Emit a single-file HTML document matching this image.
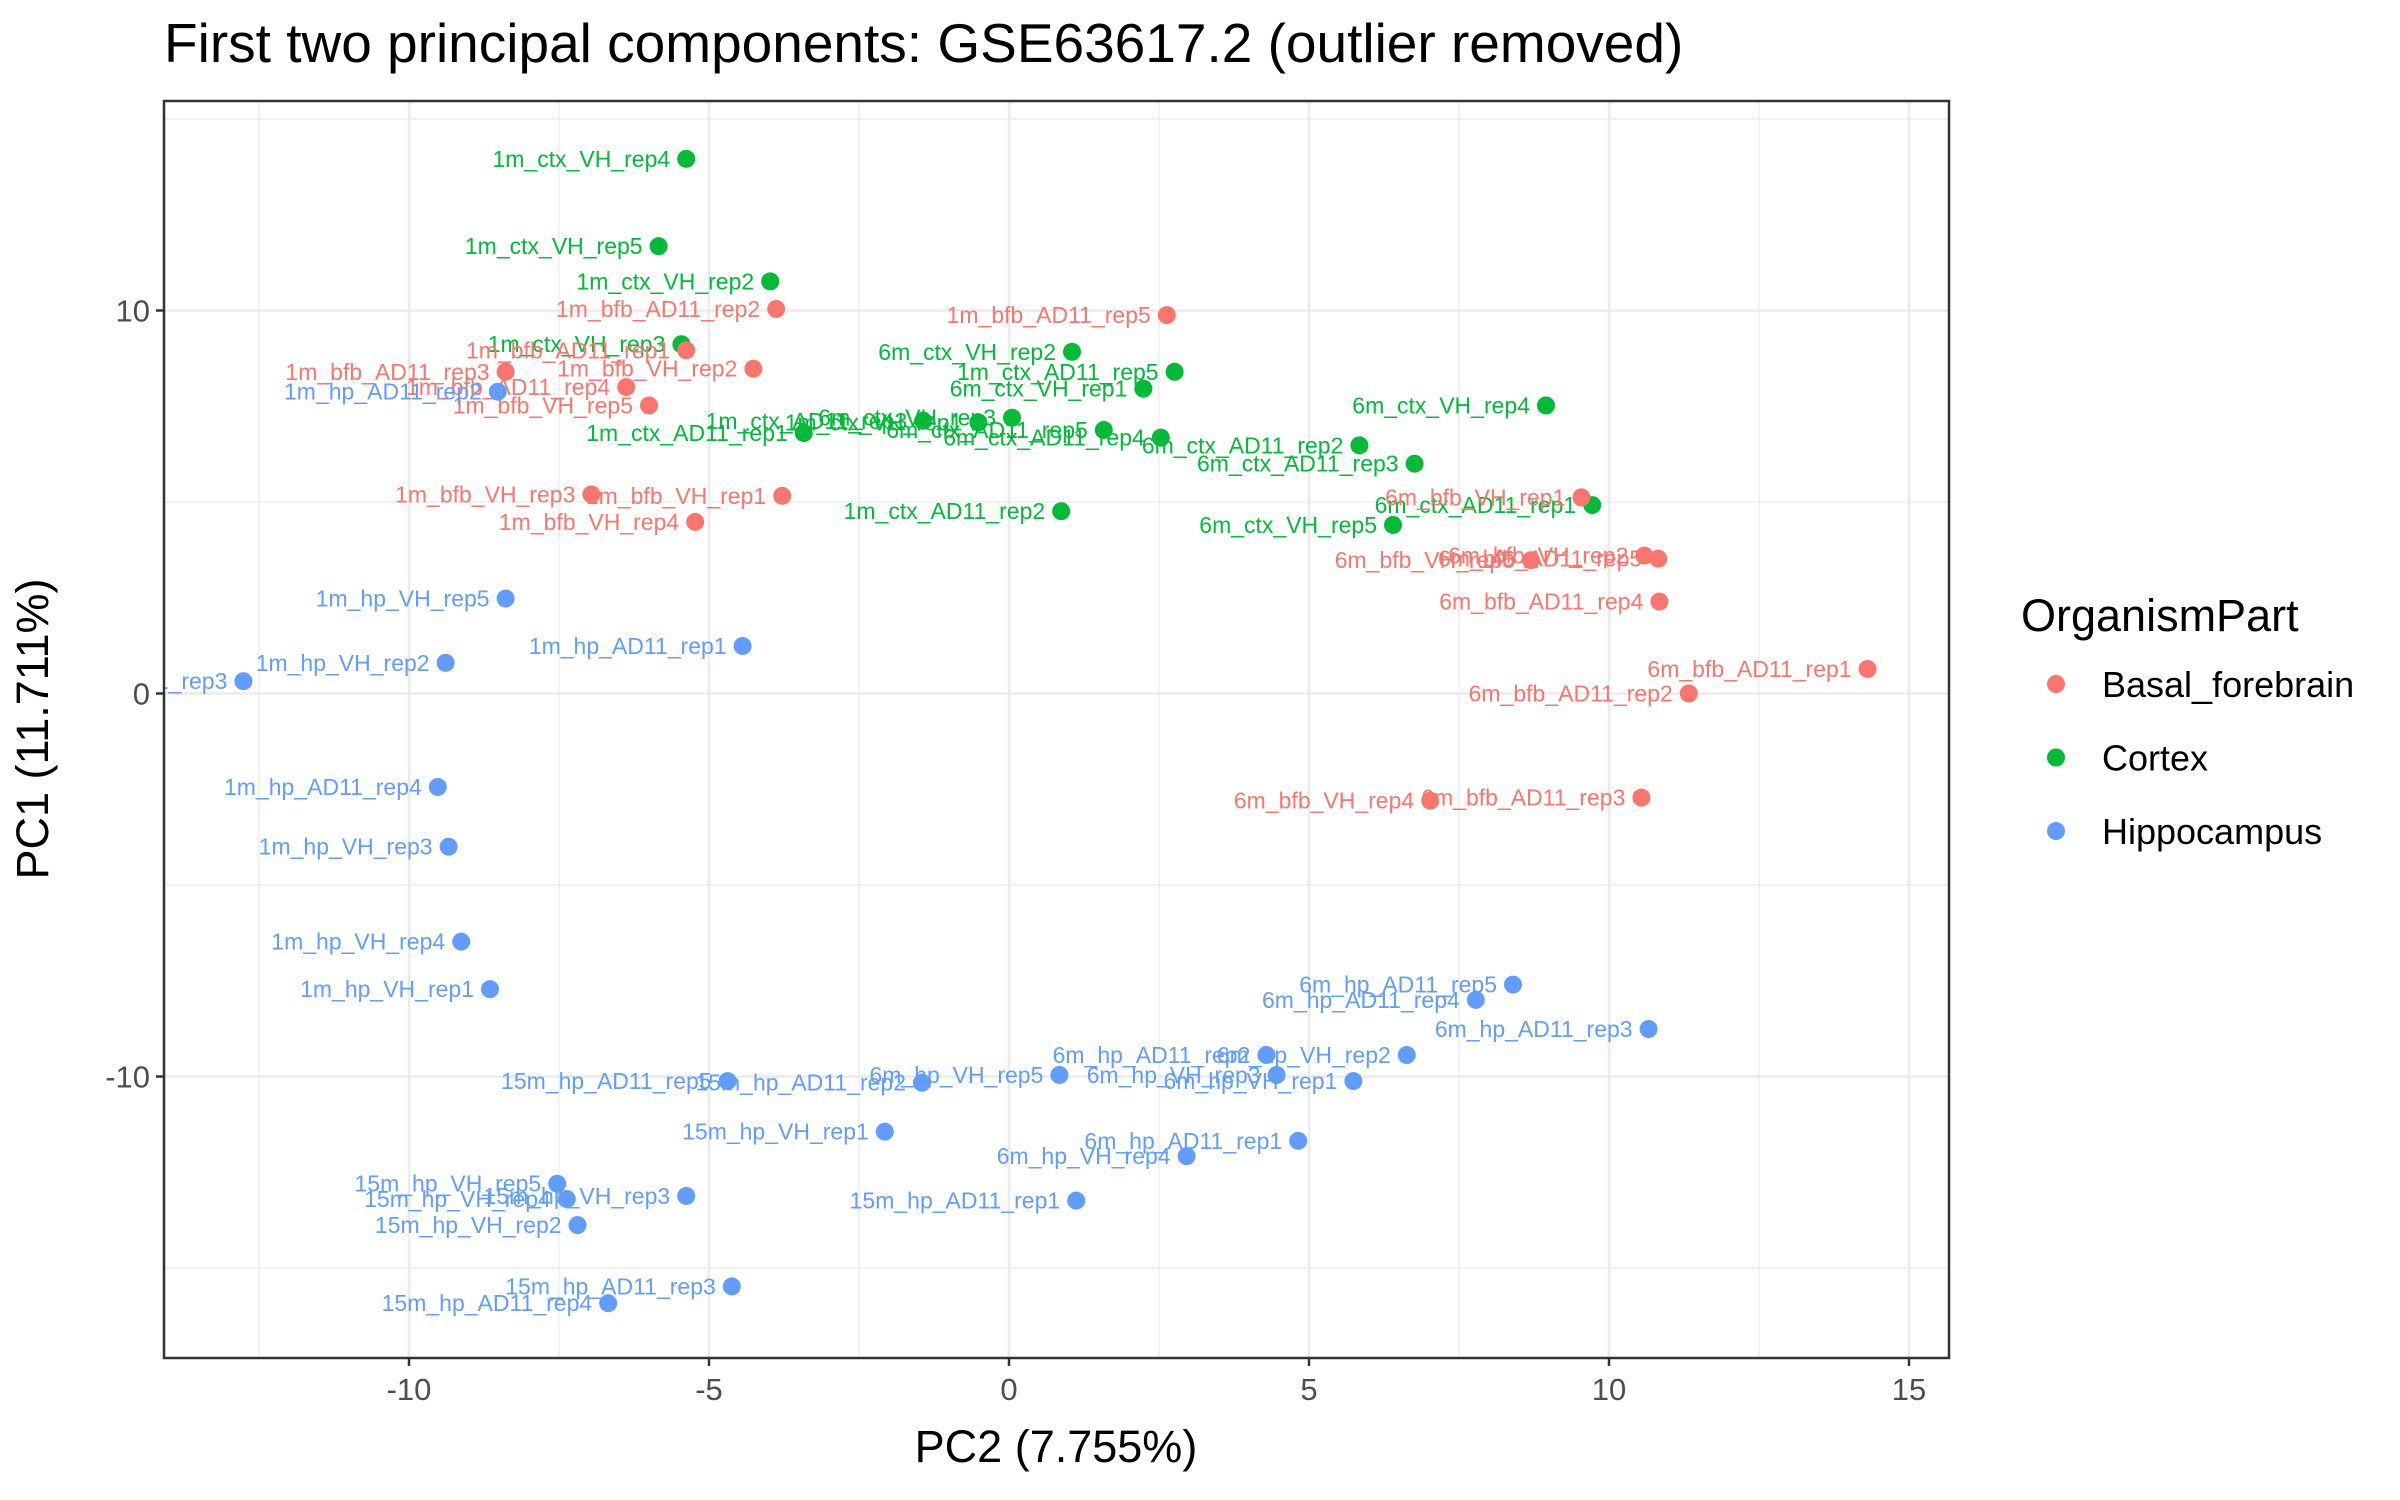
<!DOCTYPE html>
<html><head><meta charset="utf-8"><style>
html,body{margin:0;padding:0;background:#fff;}
svg{display:block;font-family:"Liberation Sans",sans-serif;}
</style></head><body>
<svg id="chart" width="2400" height="1500" viewBox="0 0 2400 1500">
<defs><clipPath id="panelclip"><rect x="164" y="101" width="1785" height="1257"/></clipPath></defs>
<text x="164" y="62" font-size="55" fill="#000">First two principal components: GSE63617.2 (outlier removed)</text>
<g id="grid"></g>
<g id="labels" clip-path="url(#panelclip)"></g>
<g id="points"></g>
<rect x="164" y="101" width="1785" height="1257" fill="none" stroke="#333" stroke-width="2.5"/>
<g id="axes"></g>
<text x="1056" y="1462" font-size="45" text-anchor="middle" fill="#000">PC2 (7.755%)</text>
<text transform="translate(48,729) rotate(-90)" font-size="45" text-anchor="middle" fill="#000">PC1 (11.711%)</text>
<g id="legend">
<text x="2021" y="631" font-size="45" fill="#000">OrganismPart</text>
</g>
</svg>
<script>
const groups = ["Basal_forebrain","Cortex","Hippocampus"];
const colors = ["#F8766D","#00BA38","#619CFF"];
const names = [
"1m_ctx_VH_rep4","1m_ctx_VH_rep5","1m_ctx_VH_rep2","1m_ctx_VH_rep3","1m_ctx_AD11_rep1","1m_ctx_AD11_rep2","1m_ctx_AD11_rep3","1m_ctx_VH_rep1","6m_ctx_VH_rep3","1m_ctx_AD11_rep5","6m_ctx_VH_rep1","6m_ctx_VH_rep2","6m_ctx_AD11_rep5","6m_ctx_AD11_rep4","6m_ctx_AD11_rep2","6m_ctx_AD11_rep3","6m_ctx_VH_rep4","6m_ctx_AD11_rep1","6m_ctx_VH_rep5",
"1m_bfb_AD11_rep2","1m_bfb_AD11_rep5","1m_bfb_AD11_rep1","1m_bfb_VH_rep2","1m_bfb_AD11_rep3","1m_bfb_AD11_rep4","1m_bfb_VH_rep5","1m_bfb_VH_rep3","1m_bfb_VH_rep1","1m_bfb_VH_rep4","6m_bfb_VH_rep1","6m_bfb_VH_rep2","6m_bfb_AD11_rep5","6m_bfb_VH_rep5","6m_bfb_AD11_rep4","6m_bfb_AD11_rep1","6m_bfb_AD11_rep2","6m_bfb_VH_rep4","6m_bfb_AD11_rep3",
"1m_hp_AD11_rep2","1m_hp_VH_rep5","1m_hp_AD11_rep1","1m_hp_VH_rep2","1m_hp_AD11_rep3","1m_hp_AD11_rep4","1m_hp_VH_rep3","1m_hp_VH_rep4","1m_hp_VH_rep1","6m_hp_AD11_rep5","6m_hp_AD11_rep4","6m_hp_AD11_rep3","6m_hp_VH_rep2","6m_hp_AD11_rep2","6m_hp_VH_rep3","6m_hp_VH_rep1","6m_hp_VH_rep5","15m_hp_AD11_rep2","15m_hp_AD11_rep5","15m_hp_VH_rep1","6m_hp_AD11_rep1","6m_hp_VH_rep4","15m_hp_AD11_rep1","15m_hp_VH_rep5","15m_hp_VH_rep3","15m_hp_VH_rep4","15m_hp_VH_rep2","15m_hp_AD11_rep3","15m_hp_AD11_rep4"];
const group = [1,1,1,1,1,1,1,1,1,1,1,1,1,1,1,1,1,1,1,
0,0,0,0,0,0,0,0,0,0,0,0,0,0,0,0,0,0,0,
2,2,2,2,2,2,2,2,2,2,2,2,2,2,2,2,2,2,2,2,2,2,2,2,2,2,2,2,2];
const pc2 = [-5.38,-5.84,-3.98,-5.46,-3.42,0.87,-1.43,-0.51,0.05,2.76,2.24,1.05,1.58,2.53,5.84,6.76,8.95,9.72,6.4,
-3.88,2.63,-5.38,-4.26,-8.39,-6.38,-6.0,-6.96,-3.78,-5.23,9.54,10.59,10.82,8.7,10.84,14.31,11.33,7.02,10.54,
-8.52,-8.39,-4.44,-9.39,-12.76,-9.52,-9.34,-9.13,-8.65,8.4,7.78,10.66,6.63,4.29,4.46,5.74,0.84,-1.45,-4.69,-2.07,4.82,2.96,1.12,-7.53,-5.38,-7.37,-7.19,-4.62,-6.68];
const pc1 = [13.96,11.68,10.76,9.12,6.8,4.76,7.12,7.08,7.2,8.4,7.96,8.92,6.88,6.68,6.48,6.0,7.52,4.92,4.4,
10.04,9.88,8.96,8.48,8.4,8.0,7.52,5.2,5.16,4.48,5.12,3.6,3.52,3.48,2.4,0.64,0,-2.8,-2.72,
7.88,2.48,1.24,0.8,0.32,-2.44,-4.0,-6.48,-7.72,-7.6,-8.0,-8.76,-9.44,-9.44,-9.96,-10.12,-9.96,-10.16,-10.12,-11.44,-11.68,-12.08,-13.24,-12.8,-13.12,-13.2,-13.88,-15.48,-15.92];
const xTicks = [-10,-5,0,5,10,15];
const yTicks = [-10,0,10];
const xMinor = [-12.5,-7.5,-2.5,2.5,7.5,12.5];
const yMinor = [-15,-5,5,15];

const NS="http://www.w3.org/2000/svg";
const L=164,R=1949,T=101,B=1358;
function sx(v){return 1009+v*60.0;}
function sy(v){return 693.5-v*38.3;}
function mk(tag,attrs,parent){const e=document.createElementNS(NS,tag);for(const k in attrs)e.setAttribute(k,attrs[k]);parent.appendChild(e);return e;}
const grid=document.getElementById('grid'),axes=document.getElementById('axes'),pts=document.getElementById('points'),lab=document.getElementById('labels'),leg=document.getElementById('legend');
mk('rect',{x:L,y:T,width:R-L,height:B-T,fill:'#fff'},grid);
xMinor.forEach(v=>{const l=mk('line',{x1:sx(v),x2:sx(v),y1:T,y2:B,stroke:'#ebebeb','stroke-width':1.3},grid);

});
yMinor.forEach(v=>{const l=mk('line',{x1:L,x2:R,y1:sy(v),y2:sy(v),stroke:'#ebebeb','stroke-width':1.3},grid);

});
xTicks.forEach(v=>{const l=mk('line',{x1:sx(v),x2:sx(v),y1:T,y2:B,stroke:'#ebebeb','stroke-width':2.6},grid);


const t=mk('line',{x1:sx(v),x2:sx(v),y1:B,y2:B+8,stroke:'#333','stroke-width':2.5},axes);


const tx=mk('text',{x:sx(v),y:B+42,'font-size':31,'text-anchor':'middle',fill:'#4d4d4d'},axes);tx.textContent=v;

});
yTicks.forEach(v=>{const l=mk('line',{x1:L,x2:R,y1:sy(v),y2:sy(v),stroke:'#ebebeb','stroke-width':2.6},grid);


const t=mk('line',{x1:L-8,x2:L,y1:sy(v),y2:sy(v),stroke:'#333','stroke-width':2.5},axes);


const tx=mk('text',{x:L-14,y:sy(v)+11,'font-size':31,'text-anchor':'end',fill:'#4d4d4d'},axes);tx.textContent=v;

});
names.forEach((n,i)=>{
const c=colors[group[i]];
const p=mk('circle',{cx:sx(pc2[i]),cy:sy(pc1[i]),r:9,fill:c},pts);


const t=mk('text',{x:sx(pc2[i])-16,y:sy(pc1[i])+8,'font-size':23,'text-anchor':'end',fill:c},lab);t.textContent=n;

});
groups.forEach((g,i)=>{const y=684+i*73.5;
const d=mk('circle',{cx:2056,cy:y,r:9,fill:colors[i]},leg);


const t=mk('text',{x:2102,y:y+13,'font-size':36,fill:'#000'},leg);t.textContent=g;

});
</script>
</body></html>
